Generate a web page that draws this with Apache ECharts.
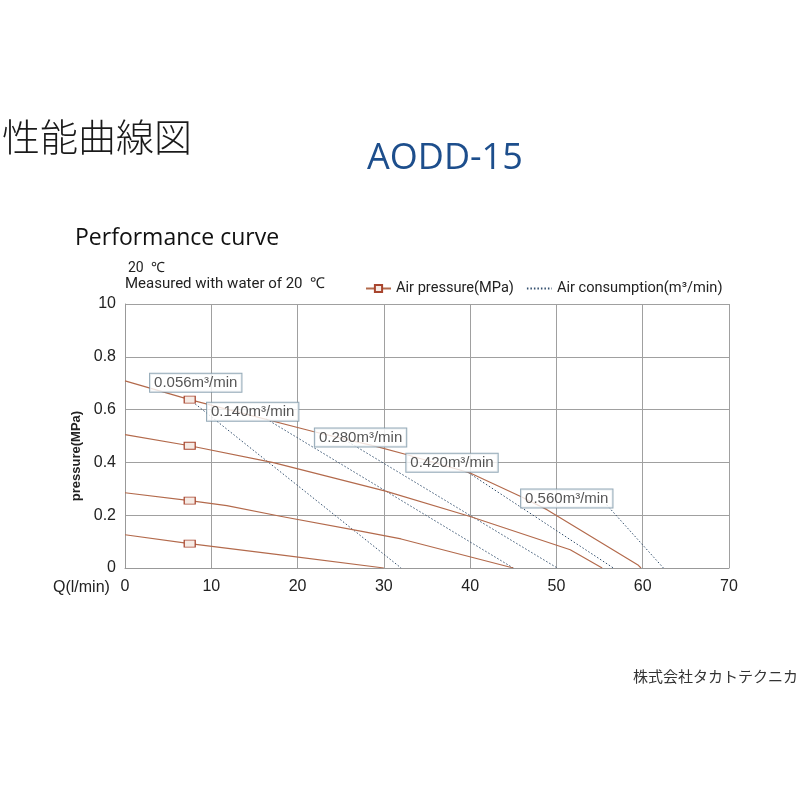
<!DOCTYPE html>
<html>
<head>
<meta charset="utf-8">
<script src="https://cdn.jsdelivr.net/npm/echarts@6/dist/echarts.min.js"></script>
<style>
  html, body { margin: 0; padding: 0; background: #fff; }
  #perf_chart { width: 800px; height: 800px; }
</style>
</head>
<body>
<div id="perf_chart"></div>
<script>
// pressure curves, Q in l/min, P in MPa
var curve1Q = [0, 7.5, 21.8, 29.2, 32.7, 40.0, 45.8, 48.9, 59.5, 59.8];
var curve1P = [0.709, 0.638, 0.517, 0.460, 0.429, 0.360, 0.272, 0.221, 0.010, 0];
var curve2Q = [0, 7.5, 17.2, 30.2, 40.0, 51.6, 55.3];
var curve2P = [0.505, 0.463, 0.399, 0.291, 0.195, 0.069, 0];
var curve3Q = [0, 7.5, 11.8, 18.0, 27.3, 32.0, 45.0];
var curve3P = [0.285, 0.255, 0.236, 0.196, 0.140, 0.110, 0];
var curve4Q = [0, 7.5, 18.0, 30.0];
var curve4P = [0.126, 0.092, 0.050, 0];
var markerQ = 7.5;

// air consumption lines
var consNames = ['0.056m³/min', '0.140m³/min', '0.280m³/min', '0.420m³/min', '0.560m³/min'];
var consStartQ = [7.5, 16.4, 25.2, 39.8, 55.8];
var consStartP = [0.638, 0.564, 0.491, 0.361, 0.240];
var consEndQ = [32.0, 45.0, 50.1, 56.6, 62.4];
var consEndP = [0, 0, 0, 0, 0];
var consLabelQ = [8.2, 14.8, 27.3, 37.9, 51.2];
var consLabelP = [0.702, 0.592, 0.494, 0.399, 0.263];

var yTickLabels = ['0', '0.2', '0.4', '0.6', '0.8', '10'];

var pressureName = 'Air pressure(MPa)';
var consName = 'Air consumption(m³/min)';
var brown = '#b36a4c';
var dotBlue = '#34506e';

var pressureSeries = function (qs, ps) {
    return {
        name: pressureName,
        type: 'line',
        symbol: 'rect',
        symbolSize: [11, 7],
        showAllSymbol: true,
        itemStyle: { color: '#f6ebe5', borderColor: '#a8452e', borderWidth: 1 },
        lineStyle: { color: brown, width: 1.2 },
        z: 3,
        data: qs.map(function (q, i) {
            var item = { value: [q, ps[i]] };
            if (q !== markerQ) { item.symbol = 'none'; }
            return item;
        })
    };
};

var series = [
    pressureSeries(curve1Q, curve1P),
    pressureSeries(curve2Q, curve2P),
    pressureSeries(curve3Q, curve3P),
    pressureSeries(curve4Q, curve4P)
];

consNames.forEach(function (n, i) {
    series.push({
        name: consName,
        type: 'line',
        symbol: 'none',
        lineStyle: { color: dotBlue, width: 1, type: [1.5, 2] },
        itemStyle: { color: dotBlue },
        z: 2,
        data: [[consStartQ[i], consStartP[i]], [consEndQ[i], consEndP[i]]]
    });
});

series.push({
    type: 'scatter',
    symbolSize: 0,
    z: 10,
    silent: true,
    label: {
        show: true,
        position: 'inside',
        formatter: function (p) { return consNames[p.dataIndex]; },
        color: '#2b2b2b',
        fontSize: 15,
        fontFamily: 'Liberation Sans',
        backgroundColor: '#fff',
        borderColor: '#7893a5',
        borderWidth: 1,
        padding: [2, 4, 1, 4]
    },
    data: consLabelQ.map(function (q, i) { return [q, consLabelP[i]]; })
});

var option = {
    backgroundColor: '#fff',
    animation: false,
    title: [
        { text: '性能曲線図', left: 2, top: 118, padding: 0,
          textStyle: { fontSize: 38, fontWeight: 300, fontFamily: 'Noto Sans CJK JP', color: '#1a1a1a' } },
        { text: 'AODD-15', left: 367, top: 141, padding: 0,
          textStyle: { fontSize: 36, fontWeight: 'normal', fontFamily: 'Open Sans', color: '#1d4e8c' } },
        { text: 'Performance curve', left: 75, top: 227, padding: 0,
          textStyle: { fontSize: 23, fontWeight: 'normal', fontFamily: 'Open Sans', color: '#111' } }
    ],
    legend: {
        left: 360,
        top: 276,
        itemWidth: 25,
        itemHeight: 9,
        itemGap: 12,
        textStyle: { fontSize: 14.6, fontFamily: 'Roboto', color: '#222' },
        data: [pressureName, { name: consName, itemStyle: { opacity: 0 } }]
    },
    grid: { left: 125, top: 304, width: 604, height: 264 },
    xAxis: {
        type: 'value',
        min: 0,
        max: 70,
        interval: 10,
        axisLine: { lineStyle: { color: '#999' } },
        axisTick: { show: false },
        splitLine: { lineStyle: { color: '#a0a0a0' } },
        axisLabel: { fontSize: 16, fontFamily: 'Liberation Sans', color: '#222', margin: 11 }
    },
    yAxis: {
        type: 'value',
        min: 0,
        max: 1,
        interval: 0.2,
        axisLine: { show: true, lineStyle: { color: '#999' } },
        axisTick: { show: false },
        splitLine: { lineStyle: { color: '#a0a0a0' } },
        axisLabel: {
            fontSize: 16, fontFamily: 'Liberation Sans', color: '#222', margin: 9,
            formatter: function (v) { return yTickLabels[Math.round(v / 0.2)]; }
        }
    },
    graphic: [
        { type: 'text', left: 128, top: 261,
          style: { text: '20  ℃', fontSize: 14, fontFamily: 'Roboto', fill: '#222' } },
        { type: 'text', left: 125, top: 277,
          style: { text: 'Measured with water of 20  ℃', fontSize: 15, fontFamily: 'Roboto', fill: '#222' } },
        { type: 'text', left: 53, top: 580,
          style: { text: 'Q(l/min)', fontSize: 16, fontFamily: 'Liberation Sans', fill: '#222' } },
        { type: 'text', x: 76, y: 456, rotation: Math.PI / 2,
          style: { text: 'pressure(MPa)', fontSize: 13, fontWeight: 'bold', fontFamily: 'Liberation Sans',
                   fill: '#222', align: 'center', verticalAlign: 'middle' } },
        { type: 'text', right: 2, top: 669,
          style: { text: '株式会社タカトテクニカ', fontSize: 15, fontFamily: 'Noto Sans CJK JP', fill: '#333' } }
    ],
    series: series
};

var perf_chart = echarts.init(document.getElementById('perf_chart'));
perf_chart.setOption(option);
</script>
</body>
</html>
